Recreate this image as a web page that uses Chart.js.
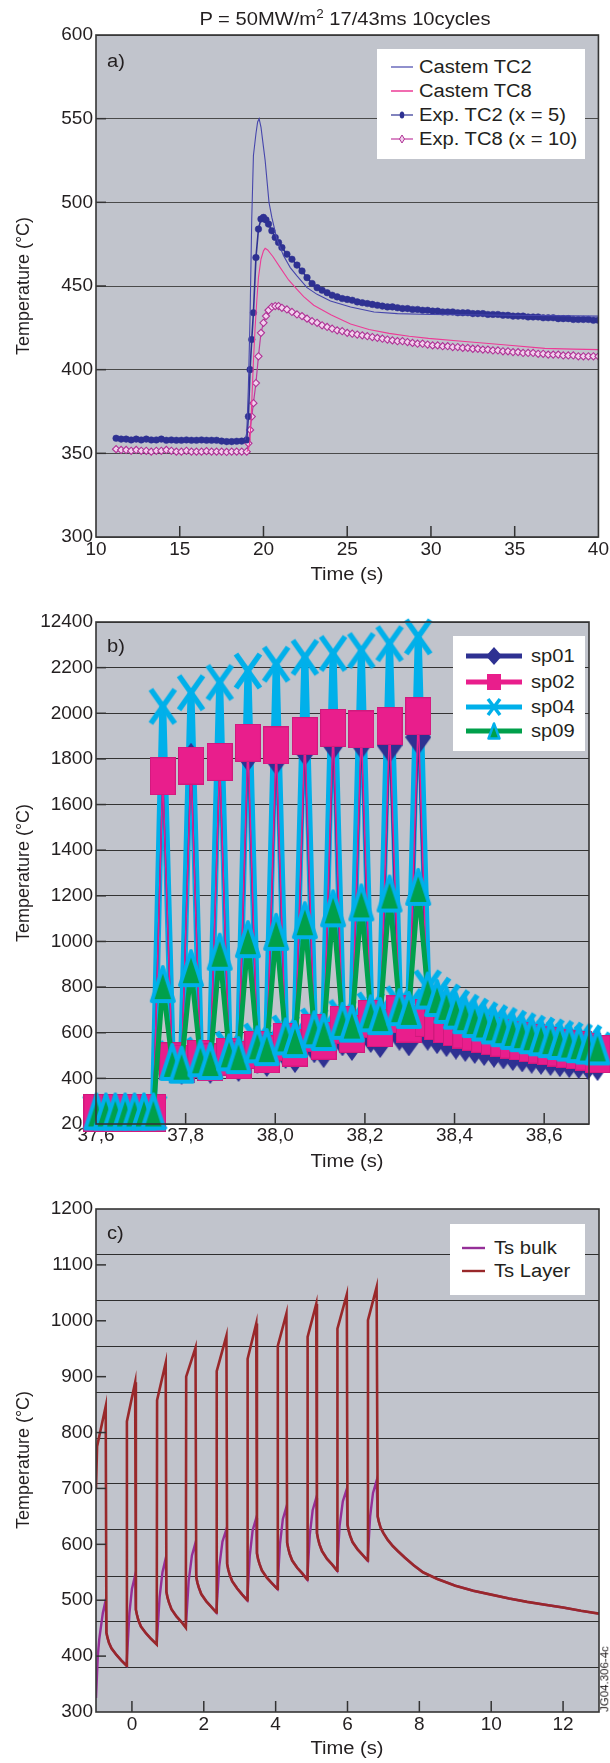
<!DOCTYPE html>
<html><head><meta charset="utf-8">
<script src="https://cdn.jsdelivr.net/npm/chart.js@4.4.1/dist/chart.umd.min.js"></script>
<style>
html,body{margin:0;padding:0;background:#fff;}
#page{position:relative;width:610px;height:1763px;overflow:hidden;font-family:"Liberation Sans",Arial,Helvetica,sans-serif;color:#231f20;}
canvas{position:absolute;left:0;}
.c{position:absolute;white-space:nowrap;font-size:18px;line-height:1;transform:translate(-50%,-50%) scaleX(1.12);}
.l{position:absolute;white-space:nowrap;font-size:18px;line-height:1;transform-origin:left center;transform:translateY(-50%) scaleX(1.12);}
.yl{position:absolute;white-space:nowrap;font-size:18px;line-height:1;transform:translate(-50%,-50%) rotate(-90deg);}
.leg{position:absolute;background:#fff;}
.lr{position:absolute;display:flex;align-items:center;transform:translateY(-50%);white-space:nowrap;}
.lr span{display:inline-block;font-size:18px;line-height:1;transform-origin:left center;transform:scaleX(1.12);}
</style>
</head><body>
<div id="page">
<canvas id="cA" width="610" height="590" style="top:0"></canvas>
<canvas id="cB" width="610" height="590" style="top:590px"></canvas>
<canvas id="cC" width="610" height="583" style="top:1180px"></canvas>

<div class="c" style="left:345px;top:19px">P = 50MW/m<span style="font-size:12px;position:relative;top:-7px">2</span> 17/43ms 10cycles</div>

<div class="l" style="left:107px;top:61px">a)</div>
<div class="yl" style="left:23px;top:286px">Temperature (°C)</div>
<div class="c" style="left:347px;top:574px">Time (s)</div>
<div class="leg" style="left:377px;top:49px;width:208px;height:110px">
 <div class="lr" style="left:14px;top:17.7px"><svg width="22" height="10" style="margin-right:6px"><line x1="0" y1="5" x2="22" y2="5" stroke="#4646ac" stroke-width="1.2"/></svg><span>Castem TC2</span></div>
 <div class="lr" style="left:14px;top:41.7px"><svg width="22" height="10" style="margin-right:6px"><line x1="0" y1="5" x2="22" y2="5" stroke="#ec3b96" stroke-width="1.5"/></svg><span>Castem TC8</span></div>
 <div class="lr" style="left:14px;top:66px"><svg width="22" height="10" style="margin-right:6px"><line x1="0" y1="5" x2="22" y2="5" stroke="#2e3192" stroke-width="1.2"/><ellipse cx="11" cy="5" rx="2.3" ry="3.5" fill="#2e3192"/></svg><span>Exp. TC2 (x = 5)</span></div>
 <div class="lr" style="left:14px;top:90.3px"><svg width="22" height="10" style="margin-right:6px"><line x1="0" y1="5" x2="22" y2="5" stroke="#c03a9e" stroke-width="1.2"/><polygon points="11,1 13.5,5 11,9 8.5,5" fill="#f2d2ee" stroke="#b03296" stroke-width="1"/></svg><span>Exp. TC8 (x = 10)</span></div>
</div>

<div class="l" style="left:107px;top:646px">b)</div>
<div class="yl" style="left:23px;top:873px">Temperature (°C)</div>
<div class="c" style="left:347px;top:1161px">Time (s)</div>
<div class="leg" style="left:453px;top:636px;width:132px;height:115px">
 <div class="lr" style="left:13px;top:20px"><svg width="56" height="20" style="margin-right:9px"><line x1="0" y1="10" x2="56" y2="10" stroke="#2e3192" stroke-width="5"/><polygon points="28,1 36,10 28,19 20,10" fill="#2e3192"/></svg><span>sp01</span></div>
 <div class="lr" style="left:13px;top:45.7px"><svg width="56" height="20" style="margin-right:9px"><line x1="0" y1="10" x2="56" y2="10" stroke="#e91e8c" stroke-width="5"/><rect x="21" y="2" width="14" height="16" fill="#e91e8c"/></svg><span>sp02</span></div>
 <div class="lr" style="left:13px;top:70.7px"><svg width="56" height="20" style="margin-right:9px"><line x1="0" y1="10" x2="56" y2="10" stroke="#00b0ea" stroke-width="5"/><line x1="22" y1="2" x2="34" y2="18" stroke="#00b0ea" stroke-width="3.5"/><line x1="34" y1="2" x2="22" y2="18" stroke="#00b0ea" stroke-width="3.5"/></svg><span>sp04</span></div>
 <div class="lr" style="left:13px;top:95px"><svg width="56" height="20" style="margin-right:9px"><line x1="0" y1="10" x2="56" y2="10" stroke="#00a04b" stroke-width="5"/><polygon points="28,2.5 33.5,17.5 22.5,17.5" fill="#00a04b" stroke="#00b0ea" stroke-width="2.5" stroke-linejoin="round"/></svg><span>sp09</span></div>
</div>

<div class="l" style="left:107px;top:1233px">c)</div>
<div class="yl" style="left:23px;top:1460px">Temperature (°C)</div>
<div class="c" style="left:347px;top:1748px">Time (s)</div>
<div class="leg" style="left:450px;top:1224px;width:135px;height:71px">
 <div class="lr" style="left:12px;top:23.7px"><svg width="23" height="10" style="margin-right:9px"><line x1="0" y1="5" x2="23" y2="5" stroke="#952f98" stroke-width="2.4"/></svg><span>Ts bulk</span></div>
 <div class="lr" style="left:12px;top:46.7px"><svg width="23" height="10" style="margin-right:9px"><line x1="0" y1="5" x2="23" y2="5" stroke="#99282a" stroke-width="2.4"/></svg><span>Ts Layer</span></div>
</div>
<div class="yl" style="left:605px;top:1679px;font-size:11.5px">JG04.306-4c</div>
</div>

<script>
// ---------------- Panel a data ----------------
const timeExpA = [11.2,11.5,11.8,12.1,12.4,12.7,13.0,13.3,13.6,13.9,14.2,14.5,14.8,15.1,15.4,15.7,16.0,16.3,16.6,16.9,17.2,17.5,17.8,18.1,18.4,18.7,
 19.0,19.1,19.2,19.3,19.4,19.55,19.7,19.85,20.0,20.15,20.3,20.5,20.7,20.9,21.1,
 21.4,21.7,22.0,22.3,22.6,22.9,23.2,23.5,23.8,24.1,24.4,24.7,25.0,25.3,25.6,25.9,26.2,26.5,26.8,27.1,27.4,27.7,28.0,28.3,28.6,28.9,29.2,29.5,29.8,30.1,30.4,30.7,31.0,31.3,31.6,31.9,32.2,32.5,32.8,33.1,33.4,33.7,34.0,34.3,34.6,34.9,35.2,35.5,35.8,36.1,36.4,36.7,37.0,37.3,37.6,37.9,38.2,38.5,38.8,39.1,39.4,39.7,40.0];
const expTC2 = [359,358.5,358.5,358,358.5,358,358.5,358,358,358.5,357.8,358,357.8,357.8,358,357.8,357.8,358,357.8,357.8,357.8,357.3,357,357,357.2,357.3,
 358,372,400,418,434,467,484,490,491,489.5,487,483,479,476,473,
 469,466,462.5,459,455,451.5,449,447.5,446,444.5,443.5,442.5,442,441.5,440.5,440,439.5,439,438.5,438,437.5,437.5,437,436.5,436.5,436,436,435.5,435.5,435,435,434.5,434.5,434.5,434,434,434,433.5,433.5,433.5,433,433,433,432.5,432.5,432,432,432,431.5,431.5,431.5,431,431,431,430.5,430.5,430.5,430,430,430,430,429.5,429.5];
const expTC8 = [352.5,352,352,351.5,352,351.5,351.5,351,351.5,351.5,352,351.5,351,351,351.5,351,351,351,351.3,351,351,351,350.8,351,351,351,
 351,356,364,372,380,392,408,422,428,432,435.5,437.5,438,438,437,
 436,434.5,433,432,430.5,429,428,426.5,425.5,424.5,423.5,423,422,421.5,421,420.5,420,419.5,419,418.5,418,417.5,417,417,416.5,416,415.5,415.5,415,414.5,414.5,414,414,413.5,413.5,413,413,412.5,412.5,412,412,411.5,411.5,411,411,410.5,410.5,410,410,410,409.5,409.5,409,409,409,408.5,408.5,408.5,408,408,408,408,408];
const timeCastemTC2 = [18.9,19.0,19.1,19.2,19.3,19.4,19.55,19.65,19.74,19.85,20.0,20.1,20.33,20.5,20.8,21.2,21.6,22.0,22.6,23.2,24.0,25.2,26.6,28.0,30.0,35.0,40.0];
const castemTC2 = [358,362,390,432,490,528,541,548,550,545,533,525,500,491,478,468,461,456,449,445,441,437.5,434.5,433.5,433,432.5,432];
const timeCastemTC8 = [19.0,19.1,19.2,19.3,19.4,19.5,19.6,19.7,19.85,20.0,20.1,20.25,20.57,21.0,21.5,22.0,22.4,23.0,24.05,25.2,26.3,27.5,28.7,29.85,32.2,34.5,36.8,38.5,40.0];
const castemTC8 = [351,352,358,380,405,425,441,455,466,471,472.5,471.5,467.5,461,453.6,448,443.6,438.5,432.7,427.3,424,421.7,420,418.7,416.7,414.7,412.7,412.3,412];
const xTicksA = [10,15,20,25,30,35,40];
const yTicksA = [300,350,400,450,500,550,600];

// ---------------- Panel b data ----------------
const timeB = [37.601,37.622,37.643,37.665,37.686,37.707,37.728,
 37.749,37.770,37.791,37.812,37.833,37.855,37.876,37.897,37.918,37.939,37.960,37.981,38.002,38.023,38.044,38.066,38.087,38.108,38.129,38.150,38.171,38.192,38.213,38.234,38.255,38.277,38.298,
 38.319,
 38.340,38.361,38.382,38.403,38.424,38.445,38.466,38.488,38.509,38.530,38.551,38.572,38.593,38.614,38.635,38.656,38.677,38.698,38.719];
const sp01 = [245,245,245,245,245,245,245,
 1720,465,450, 1792,470,455, 1777,480,463, 1822,500,485, 1807,520,502, 1847,545,524, 1873,575,555, 1877,590,568, 1860,600,575,
 1895,
 600,585,572,561,551,542,533,525,518,511,505,499,494,489,484,480,476,472,467];
const sp02 = [248,248,248,248,248,248,248,
 1724,475,465, 1771,485,470, 1787,495,480, 1871,525,505, 1859,560,535, 1900,600,565, 1936,635,595, 1929,660,620, 1944,680,640,
 1987,
 665,650,637,625,614,604,595,586,578,570,562,555,548,541,535,529,523,517,506];
const sp04 = [250,250,250,250,250,250,250,
 2030,487,475, 2090,503,491, 2135,529,517, 2185,564,552, 2215,599,587, 2245,630,618, 2262,667,655, 2275,700,688, 2305,727,715,
 2335,
 797,765,735,710,690,673,657,644,632,620,609,598,590,582,575,568,562,556,525];
const sp09 = [255,255,255,255,255,255,255,
 813,472,460, 883,488,476, 955,514,502, 1010,549,537, 1042,584,572, 1093,615,603, 1145,652,640, 1171,685,673, 1210,712,700,
 1239,
 785,752,722,697,677,660,645,632,620,608,598,589,580,572,564,557,550,544,540];
const xTicksB = [37.6,37.8,38.0,38.2,38.4,38.6];
const xTickLabelsB = ['37,6','37,8','38,0','38,2','38,4','38,6'];
const yTicksB = [200,400,600,800,1000,1200,1400,1600,1800,2000,2200,2400];
const yTickLabelsB = ['200','400','600','800','1000','1200','1400','1600','1800','2000','2200','12400'];

// ---------------- Panel c data ----------------
const timeLayer = [-1.00,-0.97,-0.73,-0.71,-0.68,-0.64,-0.57,-0.43,-0.29,-0.15,
 -0.14,0.09,0.11,0.14,0.18,0.25,0.39,0.53,0.69,
 0.70,0.94,0.96,0.99,1.03,1.10,1.24,1.38,1.50,
 1.51,1.77,1.79,1.82,1.86,1.93,2.07,2.21,2.35,
 2.36,2.63,2.65,2.68,2.72,2.79,2.93,3.07,3.21,
 3.22,3.46,3.48,3.51,3.55,3.62,3.76,3.90,4.05,
 4.06,4.30,4.32,4.35,4.39,4.46,4.60,4.74,4.88,
 4.89,5.13,5.15,5.18,5.22,5.29,5.43,5.57,5.71,
 5.72,5.98,6.00,6.03,6.07,6.14,6.28,6.42,6.56,
 6.57,6.81,6.84,6.87,6.92,7.00,7.12,7.26,7.40,7.60,7.85,8.10,8.50,9.00,9.50,10.00,10.50,11.00,11.50,12.00,12.50,13.00];
const tempLayer = [700,775,847,442,433,424,414,402,392,383,
 820,890,483,474,464,453,441,431,421,
 858,925,515,505,496,484,471,461,451,
 900,952,542,532,523,511,498,488,478,
 910,973,565,555,546,534,521,510,500,
 932,995,584,574,565,553,540,530,520,
 955,1013,603,593,583,571,558,548,537,
 971,1030,620,610,600,588,574,564,553,
 986,1047,635,625,616,604,591,581,571,
 1001,1060,650,641,630,620,608,597,588,576,562,550,538,526,517,510,503,497,492,487,481,476];
const timeBulk = [-1.00,-0.95,-0.91,-0.81,-0.73,-0.71,-0.68,-0.64,-0.57,-0.43,-0.29,-0.15,
 -0.07,0.00,0.09,0.11,0.14,0.18,0.25,0.39,0.53,0.69,
 0.77,0.85,0.94,0.96,0.99,1.03,1.10,1.24,1.38,1.50,
 1.58,1.67,1.77,1.79,1.82,1.86,1.93,2.07,2.21,2.35,
 2.43,2.52,2.63,2.65,2.68,2.72,2.79,2.93,3.07,3.21,
 3.28,3.36,3.46,3.48,3.51,3.55,3.62,3.76,3.90,4.05,
 4.12,4.20,4.30,4.32,4.35,4.39,4.46,4.60,4.74,4.88,
 4.95,5.03,5.13,5.15,5.18,5.22,5.29,5.43,5.57,5.71,
 5.78,5.87,5.98,6.00,6.03,6.07,6.14,6.28,6.42,6.56,
 6.63,6.71,6.81,6.84,6.87,6.92,7.00,7.12,7.26,7.40,7.60,7.85,8.10,8.50,9.00,9.50,10.00,10.50,11.00,11.50,12.00,12.50,13.00];
const tempBulk = [325,400,430,477,500,442,433,424,414,402,392,383,
 477,520,545,483,474,464,453,441,431,421,
 505,550,575,515,505,496,484,471,461,451,
 535,580,603,542,532,523,511,498,488,478,
 560,605,627,565,555,546,534,521,510,500,
 580,625,647,584,574,565,553,540,530,520,
 600,645,667,603,593,583,571,558,548,537,
 617,661,683,620,610,600,588,574,564,553,
 633,677,699,635,625,616,604,591,581,571,
 650,692,714,650,641,630,620,608,597,588,576,562,550,538,526,517,510,503,497,492,487,481,476];
const xTicksC = [0,2,4,6,8,10,12];
const yTicksC = [300,400,500,600,700,800,900,1000,1100,1200];
const gridLinesC = [380,462,544,627,709,791,873,955,1038,1120];

// ---------------- styling ----------------
const PLOT_BG = '#c1c4cc';
const TXT = '#231f20';
const NAVY = '#2e3192', PINK = '#e91e8c', CYAN = '#00b0ea', GREEN = '#00a04b';
Chart.defaults.font.family = '"Liberation Sans", Arial, Helvetica, sans-serif';

function pts(xs, ys){ return xs.map((x,i)=>({x:x, y:ys[i]})); }

function frame(o){
  return {
    id:'frame',
    beforeDraw(chart){
      const {ctx, chartArea:a} = chart;
      ctx.save(); ctx.fillStyle = PLOT_BG;
      ctx.fillRect(a.left, a.top, a.right-a.left, a.bottom-a.top); ctx.restore();
    },
    beforeDatasetsDraw(chart){
      if(!o.extraGrid) return;
      const {ctx, chartArea:a, scales} = chart;
      ctx.save(); ctx.strokeStyle = '#2e2e2e'; ctx.lineWidth = 1;
      o.extraGrid.forEach(v=>{
        const py = Math.round(scales.y.getPixelForValue(v))+0.5;
        ctx.beginPath(); ctx.moveTo(a.left, py); ctx.lineTo(a.right, py); ctx.stroke();
      });
      ctx.restore();
    },
    afterDraw(chart){
      const {ctx, chartArea:a, scales} = chart;
      ctx.save();
      ctx.strokeStyle = '#333'; ctx.lineWidth = 1.5;
      o.xMarks.forEach(v=>{ const px = scales.x.getPixelForValue(v);
        ctx.beginPath(); ctx.moveTo(px, a.bottom); ctx.lineTo(px, a.bottom-11); ctx.stroke(); });
      o.yMarks.forEach(v=>{ const py = scales.y.getPixelForValue(v);
        ctx.beginPath(); ctx.moveTo(a.left, py); ctx.lineTo(a.left+10, py); ctx.stroke(); });
      ctx.lineWidth = 1.6; ctx.strokeStyle = '#353535';
      ctx.strokeRect(a.left, a.top, a.right-a.left, a.bottom-a.top);
      ctx.restore();
    }
  };
}

function options(o){
  return {
    responsive:false, animation:false, devicePixelRatio:1, events:[],
    layout:{padding:{left:0, right:11, top:o.top, bottom:0}},
    plugins:{legend:{display:false}, tooltip:{enabled:false}, title:{display:false}},
    elements:{line:{tension:0}},
    scales:{
      x:{type:'linear', min:o.xmin, max:o.xmax,
         afterBuildTicks:s=>{ s.ticks = o.xTicks.map(v=>({value:v})); },
         afterFit:s=>{ s.height = o.xh; },
         grid:{display:false, drawTicks:false}, border:{display:false},
         ticks:{color:TXT, font:{size:19}, padding:o.xpad, maxRotation:0, autoSkip:false,
                callback:(v,i)=> o.xLabels ? o.xLabels[i] : String(v)}},
      y:{type:'linear', min:o.ymin, max:o.ymax,
         afterBuildTicks:s=>{ s.ticks = o.yTicks.map(v=>({value:v})); },
         afterFit:s=>{ s.width = 96; },
         grid:{display:o.ygrid, color:o.gridColor, lineWidth:1, drawTicks:false}, border:{display:false},
         ticks:{color:TXT, font:{size:19}, padding:3, autoSkip:false,
                callback:(v,i)=> o.yLabels ? o.yLabels[i] : String(v)}}
    }
  };
}

// ---------------- Chart a ----------------
new Chart(document.getElementById('cA'), {
  type:'line',
  data:{datasets:[
    {label:'Castem TC2', data:pts(timeCastemTC2, castemTC2), borderColor:'#4646ac', borderWidth:1.1, pointRadius:0, order:1},
    {label:'Castem TC8', data:pts(timeCastemTC8, castemTC8), borderColor:'#ec3b96', borderWidth:1.1, pointRadius:0, order:1},
    {label:'Exp. TC2 (x = 5)', data:pts(timeExpA, expTC2), borderColor:NAVY, borderWidth:1.6, pointStyle:'circle', pointRadius:3.3,
     pointBackgroundColor:NAVY, pointBorderColor:NAVY, pointBorderWidth:0.5, order:2},
    {label:'Exp. TC8 (x = 10)', data:pts(timeExpA, expTC8), borderColor:'#c03a9e', borderWidth:1.2, pointStyle:'rectRot', pointRadius:3.6,
     pointBackgroundColor:'#f2d2ee', pointBorderColor:'#b03296', pointBorderWidth:1.1, order:2}
  ]},
  options:options({top:35, xh:53, xpad:1, xmin:10, xmax:40, xTicks:xTicksA, ymin:300, ymax:600, yTicks:yTicksA, ygrid:true, gridColor:'#4a4a4a'}),
  plugins:[frame({xMarks:[15,20,25,30,35], yMarks:[350,400,450,500,550]})]
});

// ---------------- Chart b markers ----------------
function mk(w,h,draw){ const c=document.createElement('canvas'); c.width=w; c.height=h; draw(c.getContext('2d'),w,h); return c; }
const diamondImg = mk(26,36,(g,w,h)=>{ g.fillStyle=NAVY; g.beginPath(); g.moveTo(w/2,0); g.lineTo(w,h/2); g.lineTo(w/2,h); g.lineTo(0,h/2); g.closePath(); g.fill(); });
const squareImg = mk(26,38,(g,w,h)=>{ g.fillStyle=PINK; g.fillRect(0,0,w,h); g.strokeStyle='#d0197c'; g.lineWidth=1; g.strokeRect(0.5,0.5,w-1,h-1); });
const crossImg = mk(30,40,(g,w,h)=>{ g.strokeStyle=CYAN; g.lineWidth=5.5; g.beginPath(); g.moveTo(3,3); g.lineTo(w-3,h-3); g.moveTo(w-3,3); g.lineTo(3,h-3); g.stroke(); });
const triImg = mk(28,40,(g,w,h)=>{ g.beginPath(); g.moveTo(w/2,3); g.lineTo(w-3,h-3); g.lineTo(3,h-3); g.closePath(); g.fillStyle=GREEN; g.fill(); g.strokeStyle=CYAN; g.lineWidth=4; g.lineJoin='round'; g.stroke(); });

new Chart(document.getElementById('cB'), {
  type:'line',
  data:{datasets:[
    {label:'sp04', data:pts(timeB, sp04), borderColor:CYAN, borderWidth:7, borderJoinStyle:'bevel', pointStyle:crossImg, pointRadius:14, order:4, clip:false},
    {label:'sp01', data:pts(timeB, sp01), borderColor:NAVY, borderWidth:1.5, pointStyle:diamondImg, pointRadius:14, order:3, clip:false},
    {label:'sp02', data:pts(timeB, sp02), borderColor:PINK, borderWidth:1.5, pointStyle:squareImg, pointRadius:14, order:2, clip:false},
    {label:'sp09', data:pts(timeB, sp09), borderColor:GREEN, borderWidth:5, borderJoinStyle:'bevel', pointStyle:triImg, pointRadius:14, order:1, clip:false}
  ]},
  options:options({top:32, xh:56, xpad:0, xmin:37.6, xmax:38.7, xTicks:xTicksB, xLabels:xTickLabelsB, ymin:200, ymax:2400, yTicks:yTicksB, yLabels:yTickLabelsB, ygrid:true, gridColor:'#333'}),
  plugins:[frame({xMarks:[37.8,38.0,38.2,38.4,38.6], yMarks:[400,600,800,1000,1200,1400,1600,1800,2000,2200]})]
});

// ---------------- Chart c ----------------
new Chart(document.getElementById('cC'), {
  type:'line',
  data:{datasets:[
    {label:'Ts bulk', data:pts(timeBulk, tempBulk), borderColor:'#952f98', borderWidth:2.4, pointRadius:0, order:2},
    {label:'Ts Layer', data:pts(timeLayer, tempLayer), borderColor:'#99282a', borderWidth:2.6, pointRadius:0, order:1}
  ]},
  options:options({top:29, xh:51, xpad:1, xmin:-1, xmax:13, xTicks:xTicksC, ymin:300, ymax:1200, yTicks:yTicksC, ygrid:false, gridColor:'#333'}),
  plugins:[frame({xMarks:[0,2,4,6,8,10,12], yMarks:[400,500,600,700,800,900,1000,1100], extraGrid:gridLinesC})]
});
</script>
</body></html>
